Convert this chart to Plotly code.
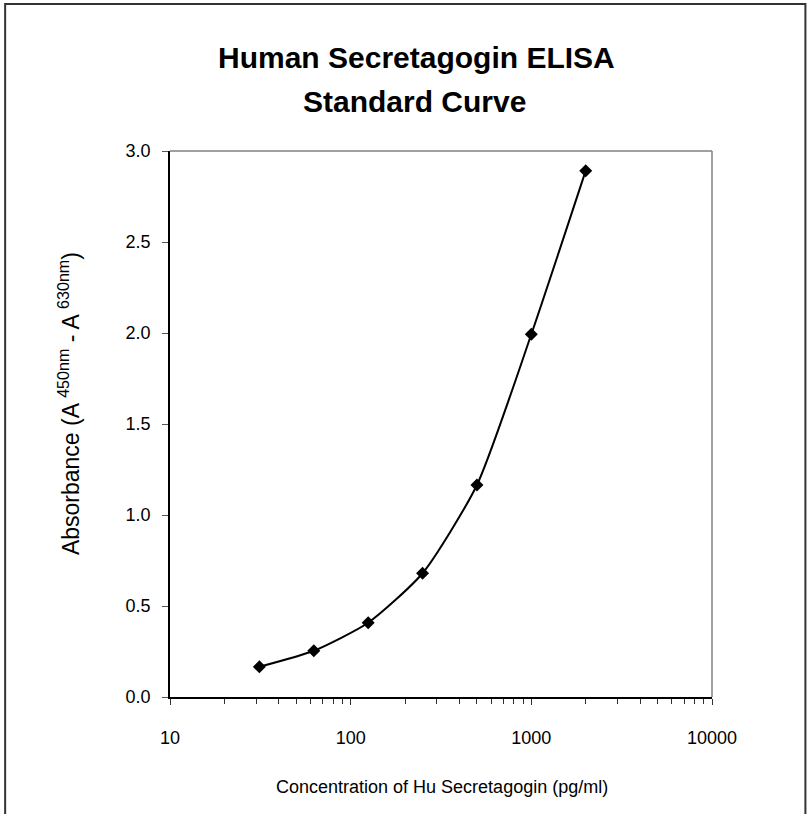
import plotly.graph_objects as go

# Data
concentration = [31.25, 62.5, 125, 250, 500, 1000, 2000]
absorbance = [0.166, 0.254, 0.408, 0.680, 1.165, 1.993, 2.892]
x_tick_vals = [10, 100, 1000, 10000]
x_tick_text = ["10", "100", "1000", "10000"]
x_minor_vals = [m * d for d in (10, 100, 1000) for m in range(2, 10)]
y_tick_vals = [0.0, 0.5, 1.0, 1.5, 2.0, 2.5, 3.0]

W, H = 808, 814
L, R, T, B = 170, 95.5, 151, 117
PW = W - L - R
PH = H - T - B

def px_x(px):
    return (px - L) / PW

def px_y(py):
    return (H - B - py) / PH

FONT = "Liberation Sans, Arial, sans-serif"

fig = go.Figure()
fig.add_trace(go.Scatter(
    x=concentration, y=absorbance,
    mode="lines+markers",
    line=dict(color="black", width=2, shape="spline", smoothing=0.6),
    marker=dict(symbol="diamond", size=10, color="black"),
    showlegend=False,
))

fig.update_layout(
    width=W, height=H,
    margin=dict(l=L, r=R, t=T, b=B, autoexpand=False),
    paper_bgcolor="white", plot_bgcolor="white",
    font=dict(family=FONT, color="black"),
    xaxis=dict(
        type="log", range=[1, 4],
        tickvals=x_tick_vals, ticktext=x_tick_text,
        ticks="outside", ticklen=6, tickcolor="#333", tickwidth=1,
        minor=dict(ticks="outside", ticklen=5, tickcolor="#333", tickwidth=1,
                   tickvals=x_minor_vals, showgrid=False),
        showline=True, linecolor="black", linewidth=1.5,
        showgrid=False, zeroline=False,
        tickfont=dict(size=18, family=FONT),
        ticklabelstandoff=18,
    ),
    yaxis=dict(
        range=[0, 3.0],
        tickvals=y_tick_vals, tickformat=".1f",
        ticks="outside", ticklen=6, tickcolor="#555", tickwidth=1,
        showline=True, linecolor="black", linewidth=1.5,
        showgrid=False, zeroline=False,
        tickfont=dict(size=18, family=FONT),
        ticklabelstandoff=8,
    ),
    shapes=[
        # plot-area top and right borders (grey)
        dict(type="line", xref="paper", yref="paper", x0=0, x1=1, y0=1, y1=1,
             line=dict(color="#808080", width=1.5)),
        dict(type="line", xref="paper", yref="paper", x0=1, x1=1, y0=0, y1=1,
             line=dict(color="#808080", width=1.5)),
        # outer chart frame
        dict(type="rect", xref="paper", yref="paper",
             x0=px_x(5), x1=px_x(806), y0=px_y(830), y1=px_y(4),
             line=dict(color="#333333", width=2), fillcolor="rgba(0,0,0,0)"),
    ],
    annotations=[
        dict(text="<b>Human Secretagogin ELISA</b>", xref="paper", yref="paper",
             x=px_x(417), y=px_y(58), showarrow=False, xanchor="center", yanchor="middle",
             font=dict(size=30, family=FONT)),
        dict(text="<b>Standard Curve</b>", xref="paper", yref="paper",
             x=px_x(415), y=px_y(101), showarrow=False, xanchor="center", yanchor="middle",
             font=dict(size=30, family=FONT)),
        dict(text="Concentration of Hu Secretagogin (pg/ml)", xref="paper", yref="paper",
             x=px_x(442), y=px_y(787), showarrow=False, xanchor="center", yanchor="middle",
             font=dict(size=18, family=FONT)),
        dict(text="Absorbance (A <sup>450nm</sup> - A <sup>630nm</sup>)", xref="paper", yref="paper",
             x=px_x(69), y=px_y(404), showarrow=False, xanchor="center", yanchor="middle",
             textangle=-90, font=dict(size=23, family=FONT)),
    ],
)

fig.write_html("out.html", config={"displayModeBar": False},
               post_script="document.body.style.margin='0px';")
